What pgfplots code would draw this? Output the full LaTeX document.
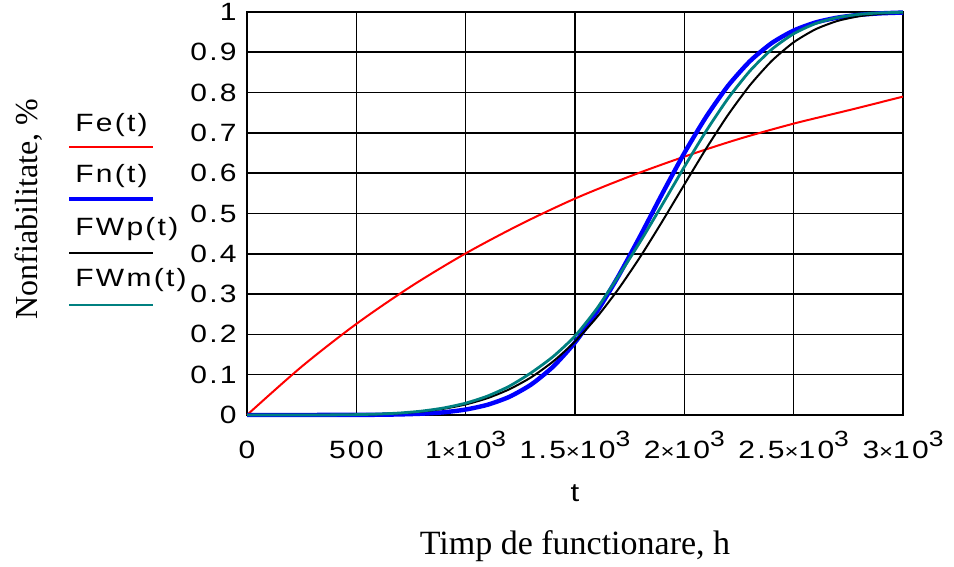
\documentclass[border=0pt]{standalone}
\usepackage{fontspec}
\setmainfont{Liberation Sans}[FakeStretch=1.2,LetterSpace=9]
\newfontfamily\tnr{Liberation Serif}
\usepackage{pgfplots}
\pgfplotsset{compat=1.18}
\definecolor{tealm}{RGB}{0,128,128}
\newcommand\tx[1]{#1{\fontsize{10pt}{10pt}\selectfont ×}10\raisebox{0.5em}{\fontsize{11pt}{11pt}\selectfont 3}}
\begin{document}
\begin{tikzpicture}
\useasboundingbox (0,0) rectangle (477pt,283.5pt);
\begin{axis}[
  at={(123.5pt,76pt)}, anchor=south west,
  width=328pt, height=201.5pt, scale only axis,
  xmin=0, xmax=3000, ymin=0, ymax=1,
  xtick={0,500,1000,1500,2000,2500,3000},
  xticklabels={0,500,\tx{1},\tx{1.5},\tx{2},\tx{2.5},\tx{3}},
  ytick={0,0.1,0.2,0.3,0.4,0.5,0.6,0.7,0.8,0.9,1},
  yticklabels={0,0.1,0.2,0.3,0.4,0.5,0.6,0.7,0.8,0.9,1},
  major tick length=0pt,
  grid=major,
  major grid style={black, line width=0.8pt},
  axis line style={black, line width=1.1pt},
  tick label style={font=\fontsize{12.5pt}{12.5pt}\selectfont},
  xticklabel style={anchor=base, yshift=-22pt, inner sep=0pt},
  yticklabel style={anchor=east, xshift=-5pt, inner sep=0pt},
  clip=false,
]
\addplot[red, line width=1pt, smooth] coordinates {
(0,0)(250,0.120)(500,0.226)(750,0.319)(1000,0.401)(1250,0.473)(1500,0.537)(1750,0.592)(2000,0.641)(2250,0.685)(2500,0.723)(2750,0.756)(3000,0.79)};
\addplot[blue, line width=2.2pt, smooth, tension=0.4] coordinates {
(0,0)(500,0.0002)(600,0.0006)(700,0.0014)(800,0.0032)(900,0.0067)(1000,0.0135)(1100,0.0254)(1200,0.0451)(1300,0.0758)(1400,0.120)(1500,0.180)(1600,0.256)(1700,0.346)(1800,0.446)(1900,0.550)(2000,0.650)(2100,0.740)(2200,0.817)(2300,0.878)(2400,0.923)(2500,0.954)(2600,0.974)(2700,0.986)(2800,0.993)(2900,0.9967)(3000,0.9986)};
\addplot[black, line width=1pt, smooth, tension=0.4] coordinates {
(0,0)(300,0.0001)(400,0.0003)(500,0.00083)(600,0.00206)(700,0.00445)(800,0.00865)(900,0.01553)(1000,0.02616)(1100,0.0418)(1200,0.06385)(1300,0.09369)(1400,0.1328)(1500,0.1823)(1600,0.2427)(1700,0.3137)(1800,0.3939)(1900,0.4812)(2000,0.5718)(2100,0.6613)(2200,0.7448)(2300,0.8183)(2400,0.8788)(2500,0.9248)(2600,0.9571)(2700,0.9777)(2800,0.9895)(2900,0.9956)(3000,0.9984)};
\addplot[tealm, line width=1.4pt, smooth, tension=0.4] coordinates {
(0,0)(300,0.0001)(400,0.0003)(500,0.00093)(600,0.00232)(700,0.00501)(800,0.00974)(900,0.0175)(1000,0.0294)(1100,0.0470)(1200,0.0716)(1300,0.1050)(1400,0.1450)(1500,0.1960)(1600,0.2640)(1700,0.3457)(1800,0.4315)(1900,0.5228)(2000,0.6157)(2100,0.7048)(2200,0.7856)(2300,0.8538)(2400,0.9074)(2500,0.9460)(2600,0.9713)(2700,0.9863)(2800,0.9942)(2900,0.9978)(3000,0.9993)};
\end{axis}
% legend
\begin{scope}[font=\fontsize{12.5pt}{12.5pt}\selectfont]
\node[anchor=base west, inner sep=0pt] at (37.5pt,217.65pt) {Fe(t)};
\draw[red, line width=0.9pt] (34.5pt,209.85pt) -- (76.5pt,209.85pt);
\node[anchor=base west, inner sep=0pt] at (37.5pt,192pt) {Fn(t)};
\draw[blue, line width=2pt] (34.5pt,184.15pt) -- (76.5pt,184.15pt);
\node[anchor=base west, inner sep=0pt] at (37.5pt,165.65pt) {FWp(t)};
\draw[black, line width=0.9pt] (34.5pt,157.15pt) -- (76.5pt,157.15pt);
\node[anchor=base west, inner sep=0pt] at (37.5pt,140.15pt) {FWm(t)};
\draw[tealm, line width=1.2pt] (34.5pt,131pt) -- (76.5pt,131pt);
\end{scope}
% axis titles
\node[anchor=base, inner sep=0pt, font=\fontsize{13pt}{13pt}\selectfont] at (287.5pt,32.5pt) {t};
\node[anchor=base, inner sep=0pt, font=\tnr\fontsize{17pt}{17pt}\selectfont] at (287.5pt,6pt) {Timp de functionare, h};
\node[anchor=base, inner sep=0pt, rotate=90, font=\tnr\fontsize{16pt}{16pt}\selectfont] at (18.5pt,179pt) {Nonfiabilitate, \%};
\end{tikzpicture}
\end{document}
